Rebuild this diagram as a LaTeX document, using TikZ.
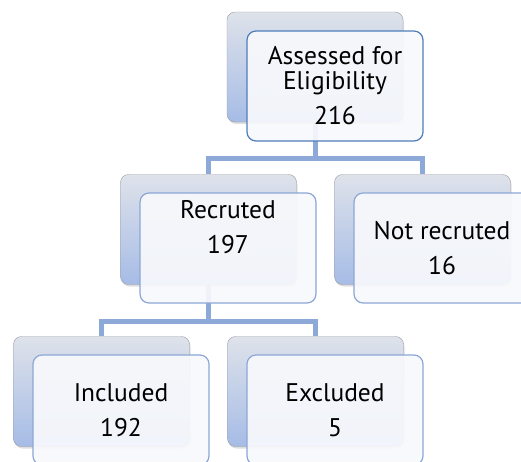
\documentclass[tikz,border=0pt]{standalone}
\usepackage{fontspec}
\setmainfont{PT Sans}
\usetikzlibrary{shadows}

\definecolor{boxtop}{HTML}{DEE2EA}
\definecolor{boxbot}{HTML}{A6BCE6}
\definecolor{boxline}{HTML}{9A9CA3}
\definecolor{cardline}{HTML}{8CA7D6}
\definecolor{cardtop}{HTML}{4F7DBA}
\definecolor{cardfill}{HTML}{F8F9FC}
\definecolor{linkblue}{HTML}{8DA9D8}

\tikzset{
  back/.style={draw=boxline, rounded corners=8pt, minimum width=176pt,
    minimum height=110pt, top color=boxtop, bottom color=boxbot,
    drop shadow={opacity=0.25, shadow xshift=1pt, shadow yshift=-2pt}},
  card/.style={draw=cardline, line width=1.2pt, rounded corners=9pt,
    fill=cardfill, fill opacity=0.92, text opacity=1, minimum width=176pt,
    minimum height=110pt, align=center, font=\fontsize{25.5}{25}\selectfont},
  link/.style={draw=linkblue, line width=5pt}
}

\begin{document}
\begin{tikzpicture}[x=1pt,y=-1pt]
   \clip (0,0) rectangle (521,461);
   \fill[white] (0,0) rectangle (521,461);
   % back boxes
   \node[back] (topback) at (315,67) {};
   \node[back] (recback) at (208.5,229.5) {};
   \node[back] (notback) at (422.5,229.5) {};
   \node[back] (incback) at (101.5,391.5) {};
   \node[back] (excback) at (315.5,391.5) {};
   % connectors
   \coordinate (j1) at (315,158);
   \coordinate (j2) at (208.5,321);
   \draw[link] (topback.south) -- (j1);
   \draw[link] (recback.north) |- (j1) -| (notback.north);
   \draw[link] (recback.south) -- (j2);
   \draw[link] (incback.north) |- (j2) -| (excback.north);
   % front boxes
   \node[card, draw=cardtop] (topcard) at (335,86) {Assessed for\\Eligibility\\[10pt]216};
   \node[card] (reccard) at (228,248) {Recruted\\[10pt]197\\[10pt]\strut};
   \node[card] (notcard) at (442,248) {Not recruted\\[10pt]16};
   \node[card] (inccard) at (121,410) {Included\\[10pt]192};
   \node[card] (exccard) at (335,410) {Excluded\\[10pt]5};
\end{tikzpicture}
\end{document}
